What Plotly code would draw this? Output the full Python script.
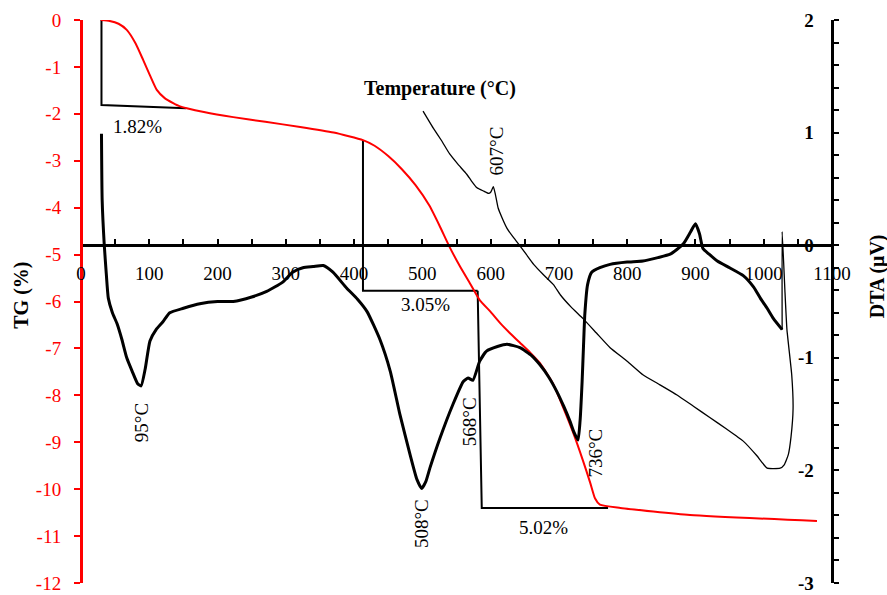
import plotly.graph_objects as go

# ---- TG curve (mass change, %) ----
tg_temp = [29, 42, 55, 67, 80, 91, 101, 111, 123, 135, 145, 155, 180, 223, 270, 321, 370, 413,
           430, 450, 470, 490, 510, 525, 540, 555, 570, 584, 600, 614, 628, 643, 658, 672, 691,
           706, 721, 735, 746, 753, 760, 790, 892, 1078]
tg_val = [0, -0.02, -0.08, -0.21, -0.50, -0.85, -1.18, -1.49, -1.67, -1.77, -1.84, -1.88, -1.96, -2.07,
          -2.17, -2.28, -2.40, -2.56, -2.68, -2.90, -3.18, -3.52, -3.95, -4.38, -4.84, -5.25, -5.62,
          -5.97, -6.22, -6.46, -6.67, -6.88, -7.09, -7.31, -7.74, -8.25, -8.80, -9.38, -9.87, -10.20,
          -10.33, -10.40, -10.55, -10.68]

# ---- DTA, heating run (µV) ----
heat_temp = [30, 31, 34, 37, 40, 46, 53, 60, 67, 75, 83, 88, 94, 101, 110, 120, 130, 150, 174, 200,
             223, 250, 272, 295, 310, 325, 340, 355, 369, 389, 405, 419, 438, 453, 467, 482, 492, 499,
             505, 511, 526, 545, 560, 567, 574, 584, 594, 610, 624, 643, 660, 672, 685, 697, 707, 716,
             722, 728, 731, 734, 736, 738, 742, 748, 760, 775, 800, 823, 845, 863, 882, 893, 900, 906,
             911, 920, 932, 950, 970, 985, 995, 1005, 1014, 1027]
heat_dta = [0.99, 0.40, 0.01, -0.25, -0.47, -0.60, -0.70, -0.84, -1.00, -1.12, -1.23, -1.25, -1.10,
            -0.85, -0.75, -0.68, -0.60, -0.56, -0.52, -0.50, -0.50, -0.46, -0.41, -0.33, -0.24, -0.20,
            -0.19, -0.18, -0.24, -0.38, -0.48, -0.59, -0.84, -1.12, -1.50, -1.86, -2.08, -2.16, -2.10,
            -1.98, -1.71, -1.41, -1.21, -1.18, -1.20, -1.03, -0.94, -0.90, -0.88, -0.91, -0.98, -1.06,
            -1.17, -1.30, -1.43, -1.56, -1.66, -1.73, -1.56, -1.21, -0.90, -0.61, -0.35, -0.24, -0.20,
            -0.17, -0.15, -0.14, -0.11, -0.08, 0.01, 0.12, 0.19, 0.10, -0.03, -0.08, -0.14, -0.20,
            -0.27, -0.37, -0.47, -0.56, -0.65, -0.75]

# ---- DTA, cooling run (µV) ----
cool_temp = [1027, 1027, 1031, 1034, 1041, 1043, 1040, 1036, 1030, 1024, 1005, 990, 970, 945, 921,
             897, 873, 848, 823, 800, 775, 755, 735, 718, 702, 692, 677, 663, 652, 641, 632, 624, 617,
             611, 607, 604, 600, 597, 590, 580, 572, 565, 552, 540, 528, 516, 508, 501]
cool_dta = [-0.75, 0.12, -0.40, -0.75, -1.15, -1.45, -1.70, -1.86, -1.95, -1.98, -1.98, -1.87, -1.74,
            -1.63, -1.53, -1.43, -1.33, -1.24, -1.15, -1.03, -0.91, -0.78, -0.65, -0.55, -0.44, -0.35,
            -0.26, -0.17, -0.08, 0.01, 0.08, 0.15, 0.24, 0.33, 0.45, 0.52, 0.47, 0.46, 0.48, 0.51,
            0.57, 0.63, 0.72, 0.81, 0.93, 1.04, 1.12, 1.19]

# ---- Mass-loss steps (construction lines on TG axis) ----
step_temp = [[30, 30, 154], [413, 413, 581], [581, 587, 772]]
step_tg = [[0, -1.81, -1.88], [-2.56, -5.77, -5.77], [-5.77, -10.40, -10.40]]
step_labels = ["1.82%", "3.05%", "5.02%"]
step_label_pos = [(83, -2.28), (504, -6.07), (677, -10.81)]

# ---- DTA peak labels ----
peak_labels = ["95°C", "508°C", "568°C", "736°C", "607°C"]
peak_label_pos = [(88, -1.58), (499, -2.47), (570, -1.57), (753, -1.85), (609, 0.84)]

x_ticks = list(range(0, 1101, 100))
tg_ticks = list(range(-12, 1))
dta_ticks = [-3, -2, -1, 0, 1, 2]

SERIF = "Liberation Serif"
RED = "#ff0000"

fig = go.Figure()

fig.add_trace(go.Scatter(x=heat_temp, y=heat_dta, mode="lines", yaxis="y2",
                         line=dict(color="black", width=3, shape="spline", smoothing=0.5),
                         showlegend=False))
fig.add_trace(go.Scatter(x=cool_temp, y=cool_dta, mode="lines", yaxis="y2",
                         line=dict(color="black", width=1.3, shape="spline", smoothing=0.4),
                         showlegend=False))

for xs, ys in zip(step_temp, step_tg):
    fig.add_trace(go.Scatter(x=xs, y=ys, mode="lines", yaxis="y",
                             line=dict(color="black", width=2), showlegend=False))

fig.add_trace(go.Scatter(x=tg_temp, y=tg_val, mode="lines", yaxis="y",
                         line=dict(color=RED, width=2, shape="spline", smoothing=0.5),
                         showlegend=False))

annotations = []
for txt, (tx, ty) in zip(step_labels, step_label_pos):
    annotations.append(dict(x=tx, y=ty, xref="x", yref="y", text=txt, showarrow=False,
                            xanchor="center", yanchor="middle",
                            font=dict(family=SERIF, size=19, color="black")))
for txt, (tx, ty) in zip(peak_labels, peak_label_pos):
    annotations.append(dict(x=tx, y=ty, xref="x", yref="y2", text=txt, showarrow=False,
                            xanchor="center", yanchor="middle",
                            textangle=-90, font=dict(family=SERIF, size=19, color="black")))

annotations += [
    dict(x=0.478, y=0.879, xref="paper", yref="paper", text="Temperature (°C)", showarrow=False,
         xanchor="center", yanchor="middle",
         font=dict(family=SERIF, size=20, color="black", weight="bold")),
    dict(x=-0.0786, y=0.512, xref="paper", yref="paper", text="TG (%)", showarrow=False,
         xanchor="center", yanchor="middle",
         textangle=-90, font=dict(family=SERIF, size=20, color="black", weight="bold")),
    dict(x=1.06, y=0.545, xref="paper", yref="paper", text="DTA (μV)", showarrow=False,
         xanchor="center", yanchor="middle",
         textangle=-90, font=dict(family=SERIF, size=20, color="black", weight="bold")),
]

fig.update_layout(
    width=887, height=595,
    margin=dict(l=81, r=55, t=20, b=12, autoexpand=False),
    paper_bgcolor="white", plot_bgcolor="white",
    showlegend=False,
    annotations=annotations,
    xaxis=dict(
        range=[0, 1100], anchor="free", position=0.6, automargin=False,
        showgrid=False, zeroline=False,
        showline=True, linecolor="black", linewidth=3,
        tickmode="array", tickvals=x_ticks, ticktext=[str(v) for v in x_ticks],
        ticks="inside", ticklen=5, tickwidth=2, tickcolor="black",
        minor=dict(dtick=50, ticks="inside", ticklen=5, tickwidth=2, tickcolor="black"),
        tickfont=dict(family=SERIF, size=19, color="black"),
        ticklabelstandoff=10,
    ),
    yaxis=dict(
        range=[-12, 0], anchor="free", position=0, side="left", automargin=False,
        showgrid=False, zeroline=False,
        showline=True, linecolor=RED, linewidth=3,
        tickmode="array", tickvals=tg_ticks, ticktext=[str(v) for v in tg_ticks],
        ticks="outside", ticklen=6, tickwidth=2, tickcolor=RED,
        tickfont=dict(family=SERIF, size=19, color=RED),
        ticklabelstandoff=9,
    ),
    yaxis2=dict(
        range=[-3, 2], anchor="free", position=1, side="right", overlaying="y", automargin=False,
        showgrid=False, zeroline=False,
        showline=True, linecolor="black", linewidth=3,
        tickmode="array", tickvals=dta_ticks, ticktext=[str(v) for v in dta_ticks],
        ticks="outside", ticklen=5, tickwidth=2, tickcolor="black",
        minor=dict(dtick=0.2, ticks="outside", ticklen=5, tickwidth=2, tickcolor="black"),
        ticklabelposition="inside", ticklabeloverflow="allow",
        tickfont=dict(family=SERIF, size=19, color="black", weight="bold"),
        ticklabelstandoff=18,
    ),
)

fig.write_html("out.html")
